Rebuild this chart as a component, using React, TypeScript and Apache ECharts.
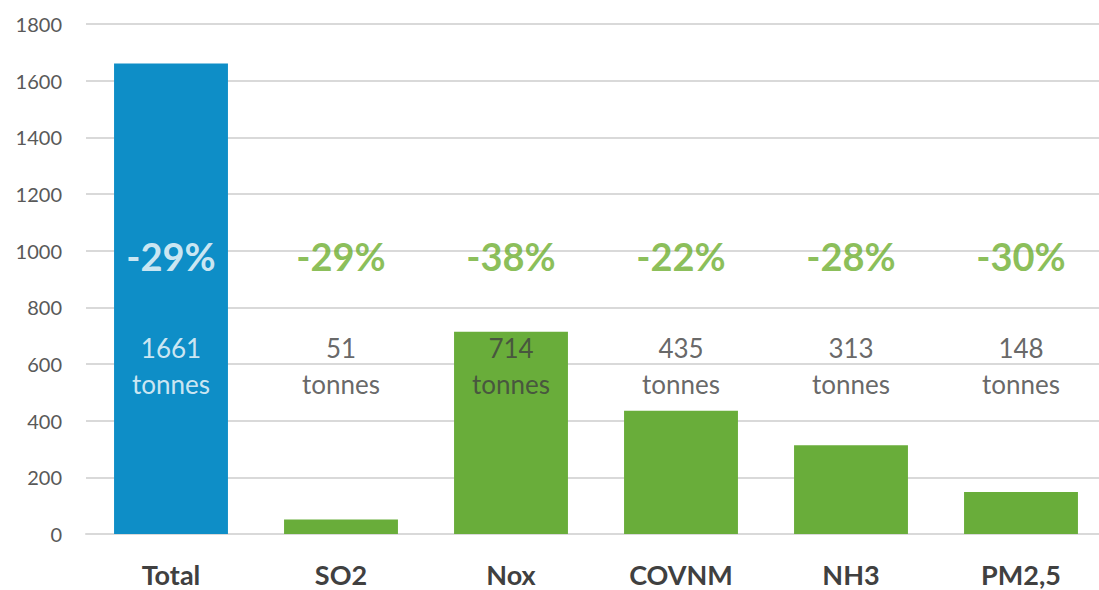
import React, { useEffect, useRef } from "react";
import * as echarts from "echarts";

const categories = ["Total", "SO2", "Nox", "COVNM", "NH3", "PM2,5"];
const emissions = [1661, 51, 714, 435, 313, 148];
const changes = ["-29%", "-29%", "-38%", "-22%", "-28%", "-30%"];
const yTicks = { min: 0, max: 1800, interval: 200 };
// data-unit levels where the annotation rows sit
const changeLevel = 980;
const valueLevel = 593;

const BLUE = "#0E8EC7";
const GREEN = "#69AD3A";
const FONT = "Lato, 'Open Sans', sans-serif";

export default function App() {
  const ref = useRef<HTMLDivElement>(null);
  useEffect(() => {
    if (!ref.current) return;
    const chart = echarts.init(ref.current, null, { renderer: "svg" });
    chart.setOption({
      animation: false,
      backgroundColor: "#ffffff",
      grid: {
        left: 86,
        top: 24,
        width: 1020,
        height: 510,
        containLabel: false,
        outerBoundsMode: "none",
      },
      xAxis: {
        type: "category",
        data: categories,
        axisTick: { show: false },
        axisLine: { lineStyle: { color: "#d9d9d9", width: 2 } },
        axisLabel: {
          margin: 27,
          fontFamily: FONT,
          fontSize: 27,
          lineHeight: 27,
          fontWeight: "bold",
          color: "#404040",
        },
      },
      yAxis: {
        type: "value",
        min: yTicks.min,
        max: yTicks.max,
        interval: yTicks.interval,
        axisLine: { show: false },
        axisTick: { show: false },
        splitLine: { lineStyle: { color: "#d9d9d9", width: 2 } },
        axisLabel: {
          margin: 24,
          fontFamily: FONT,
          fontSize: 20,
          color: "#595959",
          formatter: (v: number) => String(v),
        },
      },
      series: [
        {
          type: "bar",
          barWidth: "67%",
          data: emissions.map((v, i) => ({
            value: v,
            itemStyle: { color: i === 0 ? BLUE : GREEN },
          })),
          z: 2,
        },
        {
          type: "scatter",
          symbolSize: 0,
          silent: true,
          z: 5,
          data: changes.map((c, i) => ({
            value: changeLevel,
            label: {
              show: true,
              position: "inside",
              formatter: c,
              fontFamily: FONT,
              fontSize: 38,
              fontWeight: "bold",
              color: i === 0 ? "#ffffff" : "#6DAE2E",
            },
          })),
        },
        {
          type: "scatter",
          symbolSize: 0,
          silent: true,
          z: 5,
          data: emissions.map((v, i) => ({
            value: valueLevel,
            label: {
              show: true,
              position: "inside",
              formatter: v + "\ntonnes",
              fontFamily: FONT,
              fontSize: 26,
              lineHeight: 36,
              color: i === 0 ? "#ffffff" : "#404040",
            },
          })),
        },
      ],
    });
    return () => chart.dispose();
  }, []);
  return (
    <div
      ref={ref}
      style={{ position: "fixed", left: 0, top: 0, width: 1099, height: 590 }}
    />
  );
}
